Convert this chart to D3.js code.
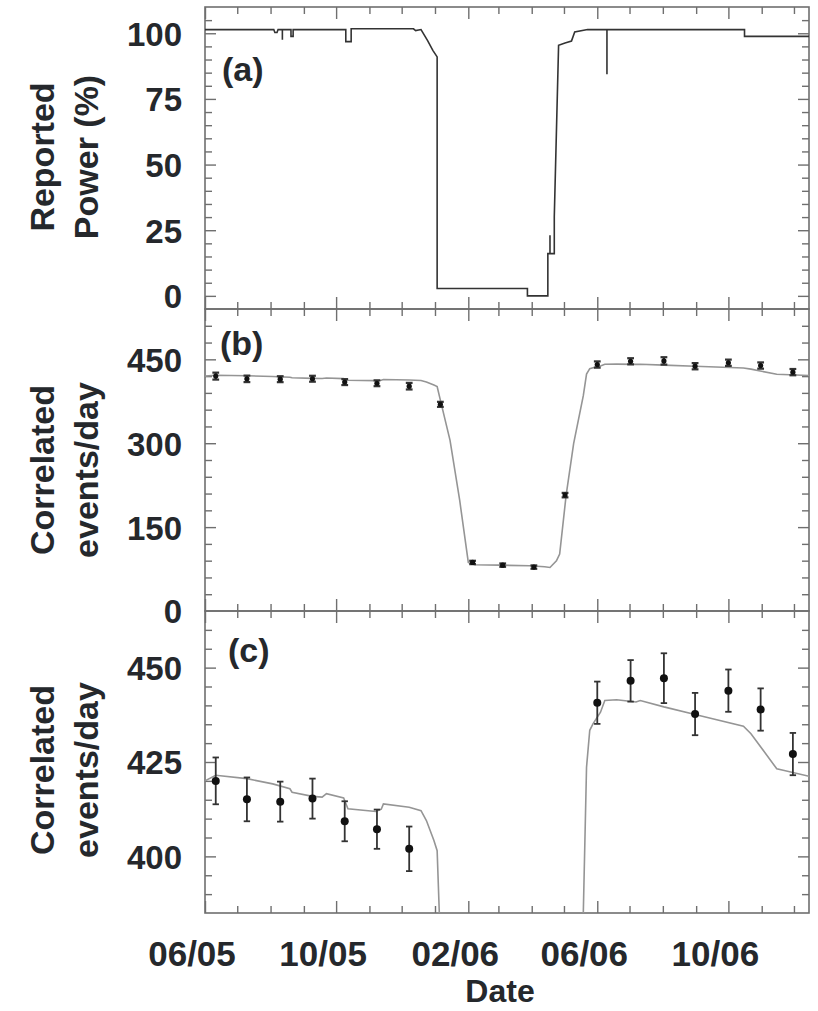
<!DOCTYPE html>
<html>
<head>
<meta charset="utf-8">
<script src="https://cdn.jsdelivr.net/npm/d3@7"></script>
<style>
  html, body { margin: 0; padding: 0; background: #fff; }
  svg { display: block; }
  text { font-family: "Liberation Sans", Arial, Helvetica, sans-serif; font-weight: bold; fill: #25282c; }
</style>
</head>
<body>
<svg id="chart" width="818" height="1011"></svg>
<script>
const parse = d3.utcParse("%Y-%m-%d");

// Reported reactor power (%), as a step-like trace
const powerDates = [
  "2005-06-01","2005-08-04","2005-08-05","2005-08-07","2005-08-08",
  "2005-08-12","2005-08-12","2005-08-12",
  "2005-08-20","2005-08-20","2005-08-22","2005-08-22",
  "2005-10-10","2005-10-10","2005-10-15","2005-10-15",
  "2005-12-12","2005-12-14","2005-12-19","2005-12-25","2005-12-30",
  "2006-01-03","2006-01-03","2006-03-28","2006-03-28","2006-04-16","2006-04-16",
  "2006-04-18","2006-04-18","2006-04-18","2006-04-22","2006-04-22",
  "2006-04-26","2006-05-02","2006-05-08","2006-05-11","2006-05-23",
  "2006-06-10","2006-06-10","2006-06-10",
  "2006-10-16","2006-10-16","2006-12-15"
];
const powerValues = [
  101.4, 101.4, 100.3, 100.3, 101.4,
  101.4, 97.5, 101.4,
  101.4, 98.8, 98.8, 101.4,
  101.4, 96.8, 96.8, 101.7,
  101.7, 101.0, 101.4, 97.3, 93.5,
  91.0, 2.8, 2.8, 0.0, 0.0, 16.1,
  16.1, 23.1, 16.1, 16.1, 30.0,
  95.4, 96.3, 97.0, 100.5, 101.4,
  101.4, 84.4, 101.4,
  101.4, 98.8, 98.8
];

// Measured correlated events per day (monthly bins) with 1-sigma errors
const eventDates = [
  "2005-06-11","2005-07-10","2005-08-10","2005-09-09","2005-10-09","2005-11-08","2005-12-08",
  "2006-01-06","2006-02-05","2006-03-05","2006-04-03","2006-05-02",
  "2006-06-01","2006-07-02","2006-08-02","2006-08-31","2006-10-01","2006-10-31","2006-11-30"
];
const eventValues = [
  420.0, 415.1, 414.5, 415.3, 409.3, 407.2, 402.0,
  369.5, 86.8, 82.0, 78.5, 207.2,
  440.7, 446.5, 447.2, 437.7, 443.9, 438.9, 427.1
];
const eventErrors = [
  6.2, 5.8, 5.3, 5.3, 5.3, 5.2, 5.9,
  4.5, 3.0, 3.0, 3.0, 4.0,
  5.6, 5.5, 6.6, 5.6, 5.6, 5.6, 5.6
];

// Expected rate from the reactor model
const modelDates = [
  "2005-06-01","2005-06-11","2005-07-10","2005-08-03","2005-08-19","2005-08-21",
  "2005-09-09","2005-09-18","2005-09-22","2005-10-08","2005-10-12","2005-11-07",
  "2005-11-12","2005-11-14","2005-12-08","2005-12-19","2005-12-24","2005-12-31",
  "2006-01-03","2006-01-06","2006-01-15","2006-01-24","2006-02-01","2006-02-07",
  "2006-03-02","2006-03-30","2006-04-13","2006-04-18","2006-04-24","2006-04-27",
  "2006-05-03","2006-05-10","2006-05-19","2006-05-22","2006-05-25","2006-05-28",
  "2006-06-04","2006-06-08","2006-06-19","2006-07-07","2006-07-11","2006-08-02",
  "2006-08-31","2006-10-15","2006-10-22","2006-11-15","2006-11-21","2006-12-15"
];
const modelValues = [
  420.0, 421.5, 420.6, 419.2, 417.9, 417.0,
  415.9, 415.7, 416.6, 415.5, 412.6, 411.9,
  412.5, 413.9, 413.0, 412.1, 409.5, 404.2,
  401.5, 377.0, 305.0, 197.6, 86.8, 82.6,
  82.0, 80.8, 79.0, 77.8, 89.8, 101.8,
  206.6, 299.4, 385.0, 423.6, 433.4, 435.1,
  438.2, 441.3, 441.5, 440.9, 441.3, 439.6,
  437.6, 434.5, 432.5, 423.2, 422.8, 421.2
];

// Axis ticks
const xDomain = ["2005-06-01", "2006-12-15"];
const xLabelDates = ["2005-06-01","2005-10-01","2006-02-01","2006-06-01","2006-10-01"];
const powerTicks = [0, 25, 50, 75, 100];
const rateTicks = [0, 150, 300, 450];
const zoomTicks = [400, 425, 450];

const power = powerDates.map((d, i) => ({ date: parse(d), value: powerValues[i] }));
const events = eventDates.map((d, i) => ({ date: parse(d), value: eventValues[i], err: eventErrors[i] }));
const model = modelDates.map((d, i) => ({ date: parse(d), value: modelValues[i] }));

const left = 205, right = 809, ph = 302;
const panelTops = [7, 309, 611];
const frameColor = "#6f6f6f";

const x = d3.scaleUtc().domain(xDomain.map(parse)).range([left, right]);
const months = d3.utcMonth.range(x.domain()[0], x.domain()[1]);
const isMajorMonth = d => d.getUTCMonth() % 4 === 1;

const svg = d3.select("#chart");
const defs = svg.append("defs");

const panels = [
  { key: "a", domain: [-5, 110], minor: 5, major: powerTicks, tag: "(a)", tagX: 222, tagY: 74,
    title: ["Reported", "Power (%)"], titleY: 157 },
  { key: "b", domain: [0, 540], minor: 30, major: rateTicks, tag: "(b)", tagX: 220, tagY: 46,
    title: ["Correlated", "events/day"], titleY: 470 },
  { key: "c", domain: [385, 465], minor: 5, major: zoomTicks, tag: "(c)", tagX: 228, tagY: 51,
    title: ["Correlated", "events/day"], titleY: 770 }
];

panels.forEach((p, pi) => {
  const top = panelTops[pi];
  const g = svg.append("g").attr("transform", `translate(0,${top})`);
  const y = d3.scaleLinear().domain(p.domain).range([ph, 0]);
  const isMajorY = v => p.major.includes(v);

  defs.append("clipPath").attr("id", "clip-" + p.key)
    .append("rect").attr("x", left).attr("y", 0).attr("width", right - left).attr("height", ph);

  // y ticks on both sides, pointing inward
  const yVals = d3.range(p.domain[0] + p.minor, p.domain[1], p.minor);
  g.append("g").attr("transform", `translate(${left},0)`)
    .call(d3.axisLeft(y).tickValues(yVals).tickSize(0).tickFormat(""))
    .call(s => s.select(".domain").remove())
    .selectAll(".tick line").attr("x2", d => isMajorY(d) ? 11 : 7)
    .attr("stroke", frameColor).attr("stroke-width", 1.4);
  g.append("g").attr("transform", `translate(${right},0)`)
    .call(d3.axisRight(y).tickValues(yVals).tickSize(0).tickFormat(""))
    .call(s => s.select(".domain").remove())
    .selectAll(".tick line").attr("x2", d => isMajorY(d) ? -11 : -7)
    .attr("stroke", frameColor).attr("stroke-width", 1.4);

  // x ticks on top and bottom, pointing inward
  g.append("g").attr("transform", `translate(0,${ph})`)
    .call(d3.axisBottom(x).tickValues(months).tickSize(0).tickFormat(""))
    .call(s => s.select(".domain").remove())
    .selectAll(".tick line").attr("y2", d => isMajorMonth(d) ? -12 : -7)
    .attr("stroke", frameColor).attr("stroke-width", 1.4);
  g.append("g")
    .call(d3.axisTop(x).tickValues(months).tickSize(0).tickFormat(""))
    .call(s => s.select(".domain").remove())
    .selectAll(".tick line").attr("y2", d => isMajorMonth(d) ? 12 : 7)
    .attr("stroke", frameColor).attr("stroke-width", 1.4);

  // y tick labels
  const yl = g.append("g").attr("transform", `translate(${left},0)`)
    .call(d3.axisLeft(y).tickValues(p.major).tickSize(0).tickPadding(23))
    .call(s => s.select(".domain").remove());
  yl.selectAll(".tick text")
    .attr("font-family", null)
    .attr("font-size", 33)
    .attr("dy", "0.36em");

  // frame
  g.append("rect").attr("x", left).attr("y", 0).attr("width", right - left).attr("height", ph)
    .attr("fill", "none").attr("stroke", frameColor).attr("stroke-width", 1.6);

  const plot = g.append("g").attr("clip-path", `url(#clip-${p.key})`);

  if (p.key === "a") {
    plot.append("path").datum(power)
      .attr("fill", "none").attr("stroke", "#333").attr("stroke-width", 1.6)
      .attr("d", d3.line().x(d => x(d.date)).y(d => y(d.value)));
  } else {
    plot.append("path").datum(model)
      .attr("fill", "none").attr("stroke", "#959595").attr("stroke-width", 1.6)
      .attr("d", d3.line().x(d => x(d.date)).y(d => y(d.value)));

    const small = p.key === "b";
    const cap = small ? 3.4 : 3.2;
    const sw = small ? 2.2 : 1.8;
    const pts = plot.append("g").selectAll("g").data(events).join("g")
      .attr("transform", d => `translate(${x(d.date)},0)`);
    pts.append("line").attr("y1", d => y(d.value - d.err)).attr("y2", d => y(d.value + d.err))
      .attr("stroke", "#333").attr("stroke-width", sw);
    pts.append("line").attr("x1", -cap).attr("x2", cap)
      .attr("y1", d => y(d.value + d.err)).attr("y2", d => y(d.value + d.err))
      .attr("stroke", "#333").attr("stroke-width", sw);
    pts.append("line").attr("x1", -cap).attr("x2", cap)
      .attr("y1", d => y(d.value - d.err)).attr("y2", d => y(d.value - d.err))
      .attr("stroke", "#333").attr("stroke-width", sw);
    pts.append("circle").attr("cy", d => y(d.value)).attr("r", small ? 2.6 : 4)
      .attr("fill", "#111");
  }

  // panel tag
  g.append("text").attr("x", p.tagX).attr("y", p.tagY).attr("font-size", 34).text(p.tag);

  // axis title, two rotated lines
  const tg = svg.append("g").attr("transform", `translate(0,${p.titleY}) rotate(-90)`);
  tg.append("text").attr("x", 0).attr("y", 54).attr("text-anchor", "middle").attr("font-size", 34).text(p.title[0]);
  tg.append("text").attr("x", 0).attr("y", 98).attr("text-anchor", "middle").attr("font-size", 34).text(p.title[1]);
});

// x tick labels and axis title below the last panel
const bottom = panelTops[2] + ph;
svg.append("g").selectAll("text").data(xLabelDates.map(parse)).join("text")
  .attr("x", d => x(d) - 13).attr("y", bottom + 53)
  .attr("text-anchor", "middle").attr("font-size", 35)
  .text(d3.utcFormat("%m/%y"));
svg.append("text").attr("x", 500).attr("y", bottom + 89)
  .attr("text-anchor", "middle").attr("font-size", 32).text("Date");
</script>
</body>
</html>
